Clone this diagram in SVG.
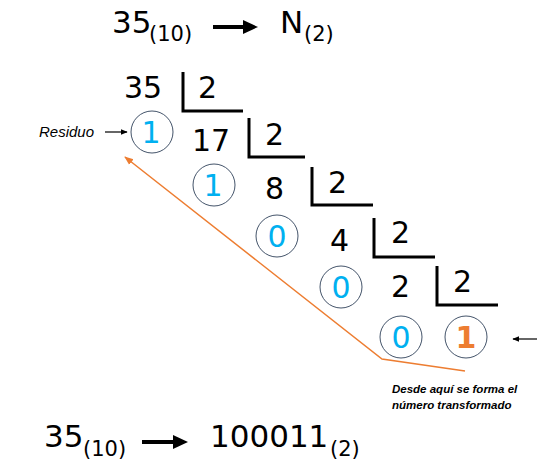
<svg xmlns="http://www.w3.org/2000/svg" width="545" height="473" viewBox="0 0 545 473">
<style>
.big{font-family:"DejaVu Sans",Verdana,sans-serif;font-size:31px;fill:#000}
.sub{font-family:"DejaVu Sans",Verdana,sans-serif;font-size:21px;fill:#000}
.num{font-family:"DejaVu Sans",Verdana,sans-serif;font-size:30px;fill:#000}
.rem{font-family:"DejaVu Sans",Verdana,sans-serif;font-size:30px;fill:#00B0F0;text-anchor:middle}
.circ{fill:none;stroke:#44546A;stroke-width:1}
.br{fill:none;stroke:#000;stroke-width:3}
.note{font-family:"Liberation Sans",Arial,sans-serif;font-style:italic;fill:#000}
</style>
<defs>
<marker id="ah" viewBox="0 0 10 10" refX="9" refY="5" markerWidth="7" markerHeight="7" orient="auto" markerUnits="userSpaceOnUse">
<path d="M0,1 L10,5 L0,9 Z" fill="#000"/>
</marker>
<marker id="ao" viewBox="0 0 10 10" refX="9" refY="5" markerWidth="9" markerHeight="9" orient="auto" markerUnits="userSpaceOnUse">
<path d="M0,1 L10,5 L0,9 Z" fill="#ED7D31"/>
</marker>
</defs>

<g id="title-top">
<text class="big" x="112" y="33">35</text>
<text class="sub" x="149" y="41">(10)</text>
<path d="M213,27 H244" stroke="#000" stroke-width="4"/>
<path d="M243,20 L258,27 L243,34 Z" fill="#000"/>
<text class="big" x="280" y="33">N</text>
<text class="sub" x="304" y="41">(2)</text>
</g>

<g id="step1">
<text class="num" x="124" y="98">35</text>
<text class="num" x="198" y="98">2</text>
<path class="br" d="M183,72 V111 H243"/>
</g>
<g id="step2">
<text class="num" x="192" y="151">17</text>
<text class="num" x="265" y="145">2</text>
<path class="br" d="M249,118 V157 H305"/>
</g>
<g id="step3">
<text class="num" x="265" y="199">8</text>
<text class="num" x="328" y="193">2</text>
<path class="br" d="M312,167 V205 H373"/>
</g>
<g id="step4">
<text class="num" x="330" y="251">4</text>
<text class="num" x="391" y="243">2</text>
<path class="br" d="M374,218 V257 H435"/>
</g>
<g id="step5">
<text class="num" x="391" y="297">2</text>
<text class="num" x="453" y="292">2</text>
<path class="br" d="M437,266 V305 H498"/>
</g>

<g id="r1"><circle class="circ" cx="152" cy="132" r="21"/><text class="rem" x="151" y="143">1</text></g>
<g id="r2"><circle class="circ" cx="214" cy="185" r="21"/><text class="rem" x="213" y="196">1</text></g>
<g id="r3"><circle class="circ" cx="277" cy="236" r="21"/><text class="rem" x="277" y="247">0</text></g>
<g id="r4"><circle class="circ" cx="341" cy="287" r="21"/><text class="rem" x="341" y="298">0</text></g>
<g id="r5"><circle class="circ" cx="401" cy="337" r="21"/><text class="rem" x="401" y="348">0</text></g>
<g id="r6"><circle class="circ" cx="466" cy="337" r="21"/><text class="rem" x="466" y="348" style="fill:#ED7D31;font-weight:bold">1</text></g>

<g id="label-residuo"><text class="note" x="39" y="137" font-size="15">Residuo</text></g>
<g id="label-desde">
<text class="note" x="392" y="393" font-size="11.5" font-weight="bold">Desde aquí se forma el</text>
<text class="note" x="392" y="409" font-size="11.5" font-weight="bold">número transformado</text>
</g>

<g id="connectors">
<path d="M105,132 H127" stroke="#000" stroke-width="1.2" fill="none" marker-end="url(#ah)"/>
<path d="M537,339 H513" stroke="#000" stroke-width="1.2" fill="none" marker-end="url(#ah)"/>
<path d="M465,371 L382,359 L125,157" stroke="#ED7D31" stroke-width="1.5" fill="none" marker-end="url(#ao)"/>
</g>

<g id="title-bottom">
<text class="big" x="44" y="447">35</text>
<text class="sub" x="83" y="456">(10)</text>
<path d="M142,442 H175" stroke="#000" stroke-width="4"/>
<path d="M173,435 L188,442 L173,449 Z" fill="#000"/>
<text class="big" x="210" y="447">100011</text>
<text class="sub" x="330" y="456">(2)</text>
</g>
</svg>
